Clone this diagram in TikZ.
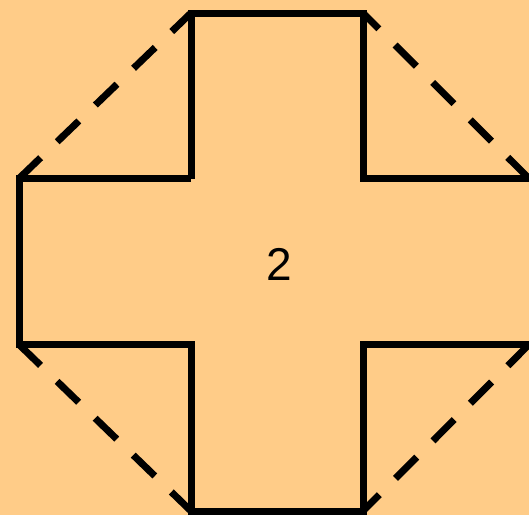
\documentclass[tikz,border=0pt]{standalone}
\usepackage{fontspec}
\setmainfont{Liberation Sans}
\begin{document}
\begin{tikzpicture}[x=1pt,y=-1pt,
  solidline/.style={line width=7pt,line cap=butt,line join=miter},
  dashline/.style={line width=7pt,dash pattern=on 30pt off 23pt}]
\fill[fill={rgb,255:red,255;green,204;blue,136}] (0,0) rectangle (529,515);
\useasboundingbox (0,0) rectangle (529,515);
\coordinate (tl) at (191,13);
\coordinate (tr) at (363,13);
\coordinate (bl) at (191,511);
\coordinate (br) at (363,511);
\coordinate (lt) at (19,178.5);
\coordinate (lb) at (19,344.5);
\coordinate (rt) at (529,178.5);
\coordinate (rb) at (529,344.5);
\coordinate (itl) at (191,178.5);
\coordinate (itr) at (363,178.5);
\coordinate (ibl) at (191,344.5);
\coordinate (ibr) at (363,344.5);
\draw[solidline] (itl) -- (tl) -- (tr) -- (itr) -- (rt);
\draw[solidline] (rb) -- (ibr) -- (br) -- (bl) -- (ibl) -- (lb) -- (lt) -- (itl);
\draw[dashline] (lt) -- (tl);
\draw[dashline] (rt) -- (tr);
\draw[dashline] (lb) -- (bl);
\draw[dashline] (rb) -- (br);
\node[font=\fontsize{46}{54}\selectfont] (lbl) at (279,264) {2};
\end{tikzpicture}
\end{document}
